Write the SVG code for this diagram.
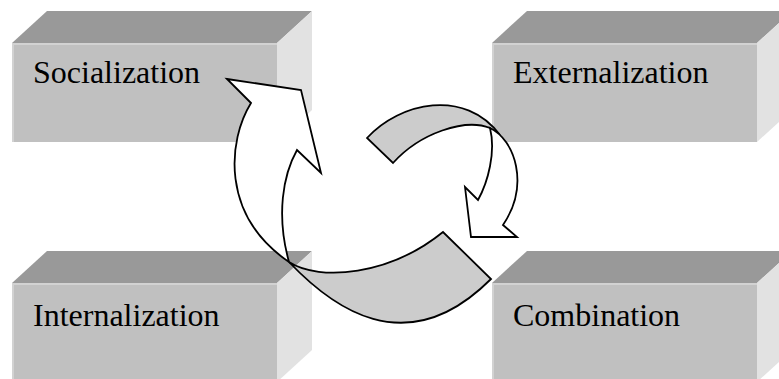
<svg xmlns="http://www.w3.org/2000/svg" width="779" height="379" viewBox="0 0 779 379">
<defs>
<style>
.top{fill:#999999}
.side{fill:#e2e2e2}
.front{fill:#c0c0c0}
.edge{fill:none;stroke:#d2d2d2;stroke-width:2}
.lbl{font-family:"Liberation Serif","Times New Roman",serif;font-size:32px;fill:#000}
.band{fill:#cccccc;stroke:#000;stroke-width:1.8;stroke-linejoin:miter}
.head{fill:#ffffff;stroke:#000;stroke-width:1.8;stroke-linejoin:miter}
</style>
<g id="box">
<polygon class="top" points="0,0 35,-32 300,-32 265,0"/>
<polygon class="side" points="265,0 300,-32 300,67 265,99"/>
<rect class="front" x="0" y="0" width="265" height="99"/>
<polyline class="edge" points="1,99 1,1 265,1"/>
</g>
</defs>
<rect width="779" height="379" fill="#ffffff"/>
<g id="socialization">
<use href="#box" transform="translate(12,43)"/>
<text class="lbl" x="33" y="83">Socialization</text>
</g>
<g id="externalization">
<use href="#box" transform="translate(492,43)"/>
<text class="lbl" x="513" y="83">Externalization</text>
</g>
<g id="internalization">
<use href="#box" transform="translate(12,283)"/>
<text class="lbl" x="33" y="326">Internalization</text>
</g>
<g id="combination">
<use href="#box" transform="translate(492,283)"/>
<text class="lbl" x="513" y="326">Combination</text>
</g>
<g id="connectors">
<path class="band" d="M289,262 C330,305 405,365 491,279 L443,232 C390,275 320,282 289,262 Z"/>
<path class="head" d="M227,79 L301,90 L321,173 L297,150 C283,175 276,215 289,262 C220,215 228,140 251,103 Z"/>
<path class="band" d="M367,138 C400,102 465,88 500,135 L490,128 C465,118 420,133 393,163 Z"/>
<path class="head" d="M490,128 C515,140 530,185 503,225 L517,237 L471,237 L465,187 L478,200 C488,182 496,152 490,128 Z"/>
</g>
</svg>
